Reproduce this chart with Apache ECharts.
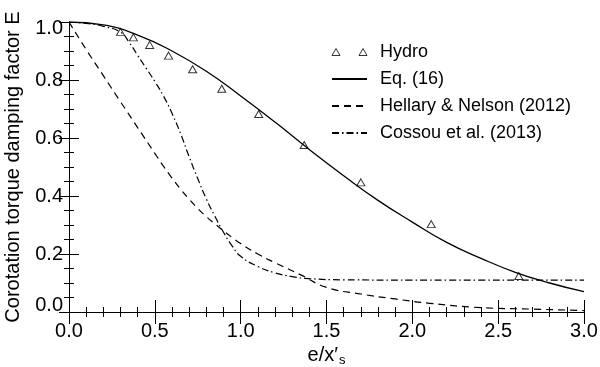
<!DOCTYPE html>
<html>
<head>
<meta charset="utf-8">
<script src="https://cdn.jsdelivr.net/npm/echarts@6/dist/echarts.min.js"></script>
<style>
  html, body { margin: 0; padding: 0; background: #fff; }
  #chart { width: 600px; height: 367px; }
</style>
</head>
<body>
<div id="chart"></div>
<script>
// values
let hydroX = [0.30, 0.375, 0.47, 0.58, 0.72, 0.89, 1.105, 1.37, 1.70, 2.11, 2.62];
let hydroE = [0.966, 0.947, 0.921, 0.884, 0.837, 0.770, 0.683, 0.576, 0.447, 0.303, 0.124];

let eqX = [0, 0.2, 0.4, 0.6, 0.8, 1.0, 1.2, 1.4, 1.6, 1.8, 2.0, 2.2, 2.4, 2.6, 2.8, 3.0];
let eqE = [1.0, 0.99, 0.955, 0.90, 0.83, 0.745, 0.655, 0.56, 0.47, 0.385, 0.31, 0.24, 0.185, 0.137, 0.10, 0.07];

let hnX = [0, 0.1, 0.2, 0.3, 0.4, 0.5, 0.55, 0.6, 0.65, 0.7, 0.75, 0.8, 0.85, 0.9, 0.95, 1.0, 1.1, 1.2, 1.35, 1.5, 1.7, 1.9, 2.1, 2.4, 2.7, 3.0];
let hnE = [1.0, 0.905, 0.815, 0.725, 0.636, 0.547, 0.503, 0.462, 0.424, 0.389, 0.357, 0.329, 0.304, 0.28, 0.257, 0.236, 0.2, 0.17, 0.128, 0.085, 0.062, 0.045, 0.03, 0.015, 0.01, 0.005];

let coX = [0, 0.1, 0.2, 0.3, 0.35, 0.4, 0.45, 0.5, 0.55, 0.6, 0.65, 0.7, 0.75, 0.8, 0.85, 0.9, 0.95, 1.0, 1.1, 1.2, 1.3, 1.4, 1.6, 2.0, 3.0];
let coE = [1.0, 0.995, 0.985, 0.965, 0.93, 0.885, 0.84, 0.795, 0.745, 0.685, 0.615, 0.535, 0.46, 0.39, 0.33, 0.275, 0.228, 0.192, 0.157, 0.135, 0.122, 0.115, 0.111, 0.11, 0.11];

let names = ['Hydro', 'Eq. (16)', 'Hellary & Nelson (2012)', 'Cossou et al. (2013)'];

function pairs(xs, ys) {
    let out = [];
    for (let i = 0; i < xs.length; i++) out.push([xs[i], ys[i]]);
    return out;
}

let font = 'Liberation Sans';
let chart = echarts.init(document.getElementById('chart'));

let xBase = {
    type: 'value', min: 0, max: 3, interval: 0.5,
    axisLine: { lineStyle: { color: '#000', width: 1 } },
    axisTick: { inside: true, length: 12, lineStyle: { color: '#000' } },
    minorTick: { show: true, splitNumber: 5, length: 5, lineStyle: { color: '#000' } },
    splitLine: { show: false },
    minorSplitLine: { show: false }
};
let yBase = {
    type: 'value', min: 0, max: 1, interval: 0.2,
    axisLine: { show: true, lineStyle: { color: '#000', width: 1 } },
    axisTick: { show: true, inside: true, length: 10, lineStyle: { color: '#000' } },
    minorTick: { show: true, splitNumber: 4, length: 5, lineStyle: { color: '#000' } },
    splitLine: { show: false },
    minorSplitLine: { show: false }
};

// no marker in the middle of the line samples
let noMark = { color: 'transparent', borderColor: 'transparent', opacity: 0 };

let option = {
    backgroundColor: '#fff',
    animation: false,
    textStyle: { fontFamily: font, color: '#000' },
    grid: { left: 69, right: 16, top: 22, bottom: 55, containLabel: false, outerBoundsMode: 'none' },
    legend: {
        left: 326, top: 38, orient: 'vertical',
        itemWidth: 35, itemHeight: 10, itemGap: 9,
        textStyle: { fontFamily: font, fontSize: 18, color: '#000', lineHeight: 18, padding: [0, 0, 0, 8] },
        data: [
            { name: names[0], icon: 'path://M0,7L4,0L8,7ZM27,7L31,0L35,7Z',
              itemStyle: { color: 'transparent', borderColor: '#000', borderWidth: 1 } },
            { name: names[1], itemStyle: noMark },
            { name: names[2], itemStyle: noMark },
            { name: names[3], itemStyle: noMark }
        ]
    },
    xAxis: [
        Object.assign({}, xBase, {
            position: 'bottom',
            name: '{m|e/x′}{s|s}', nameLocation: 'middle', nameGap: 26,
            nameTextStyle: {
                rich: {
                    m: { fontFamily: font, fontSize: 20, color: '#000' },
                    s: { fontFamily: font, fontSize: 13, color: '#000', padding: [10, 0, 0, 1] }
                }
            },
            axisLabel: { margin: 9, fontFamily: font, fontSize: 20, color: '#000',
                formatter: function (v) { return v.toFixed(1); } }
        }),
        Object.assign({}, xBase, {
            position: 'top',
            axisLabel: { show: false }
        })
    ],
    yAxis: [
        Object.assign({}, yBase, {
            position: 'left',
            name: 'Corotation torque damping factor E', nameLocation: 'middle', nameGap: 46,
            nameMoveOverlap: false,
            nameTextStyle: { fontFamily: font, fontSize: 20, color: '#000' },
            axisLabel: {
                margin: 6, fontFamily: font, fontSize: 20, color: '#000',
                formatter: function (v) {
                    if (v === 1) return '{t|1.0}';
                    if (v === 0) return '{b|0.0}';
                    return v.toFixed(1);
                },
                rich: {
                    t: { fontFamily: font, fontSize: 20, color: '#000', padding: [12, 0, 0, 0] },
                    b: { fontFamily: font, fontSize: 20, color: '#000', padding: [0, 0, 14, 0] }
                }
            }
        }),
        Object.assign({}, yBase, {
            position: 'right',
            axisLabel: { show: false }
        })
    ],
    series: [
        {
            name: names[0], type: 'scatter',
            data: pairs(hydroX, hydroE),
            symbol: 'triangle', symbolSize: [8, 7],
            itemStyle: { color: 'transparent', borderColor: '#000', borderWidth: 1 },
            z: 5
        },
        {
            name: names[1], type: 'line', smooth: true, showSymbol: false, symbol: 'none',
            data: pairs(eqX, eqE),
            lineStyle: { color: '#000', width: 1.3, type: 'solid' },
            itemStyle: { color: '#000' }
        },
        {
            name: names[2], type: 'line', smooth: 0.5, showSymbol: false, symbol: 'none',
            data: pairs(hnX, hnE),
            lineStyle: { color: '#000', width: 1.2, type: [7, 5] },
            itemStyle: { color: '#000' }
        },
        {
            name: names[3], type: 'line', smooth: 0.5, showSymbol: false, symbol: 'none',
            data: pairs(coX, coE),
            lineStyle: { color: '#000', width: 1.2, type: [7, 3, 1.5, 3] },
            itemStyle: { color: '#000' }
        }
    ]
};

chart.setOption(option);
</script>
</body>
</html>
